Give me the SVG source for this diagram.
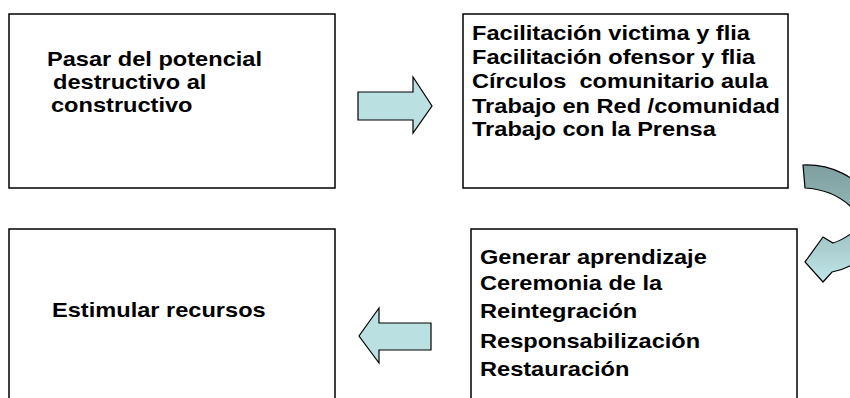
<svg xmlns="http://www.w3.org/2000/svg" width="850" height="398" viewBox="0 0 850 398">
<style>
.box{fill:#fff;stroke:#000;stroke-width:1.5}
.t{font-family:"Liberation Sans",Arial,sans-serif;font-weight:bold;font-size:20px;fill:#000}
.arr{fill:#bbe0e2;stroke:#000;stroke-width:1.2;stroke-linejoin:miter}
</style>
<defs>
<linearGradient id="cg" x1="0" y1="0" x2="0" y2="1">
<stop offset="0" stop-color="#7e9e9f"/>
<stop offset="0.45" stop-color="#97b9ba"/>
<stop offset="1" stop-color="#c0e6e9"/>
</linearGradient>
</defs>
<rect width="850" height="398" fill="#fff"/>
<g id="n1">
<rect class="box" x="9" y="14" width="326" height="174"/>
<text class="t" transform="translate(47,66) scale(1.18,1)">Pasar del potencial</text>
<text class="t" transform="translate(53,89) scale(1.18,1)">destructivo al</text>
<text class="t" transform="translate(51,112) scale(1.18,1)">constructivo</text>
</g>
<g id="n2">
<rect class="box" x="463" y="14" width="325" height="174"/>
<text class="t" transform="translate(472,40) scale(1.18,1)">Facilitación victima y flia</text>
<text class="t" transform="translate(472,64) scale(1.18,1)">Facilitación ofensor y flia</text>
<text class="t" transform="translate(472,88) scale(1.18,1)" xml:space="preserve">Círculos  comunitario aula</text>
<text class="t" transform="translate(472,113) scale(1.18,1)">Trabajo en Red /comunidad</text>
<text class="t" transform="translate(472,136) scale(1.18,1)">Trabajo con la Prensa</text>
</g>
<g id="n3">
<rect class="box" x="9" y="229" width="326" height="180"/>
<text class="t" transform="translate(52,317) scale(1.18,1)">Estimular recursos</text>
</g>
<g id="n4">
<rect class="box" x="471" y="229" width="326" height="180"/>
<text class="t" transform="translate(480,264) scale(1.18,1)">Generar aprendizaje</text>
<text class="t" transform="translate(480,290) scale(1.18,1)">Ceremonia de la</text>
<text class="t" transform="translate(480,318) scale(1.18,1)">Reintegración</text>
<text class="t" transform="translate(480,348) scale(1.18,1)">Responsabilización</text>
<text class="t" transform="translate(480,376) scale(1.18,1)">Restauración</text>
</g>
<g id="connectors">
<path class="arr" d="M358,92 L413,92 L413,77 L432,106 L413,133 L413,120 L358,120 Z"/>
<path class="arr" d="M431,323 L379,323 L379,308 L359,336 L379,363 L379,350 L431,350 Z"/>
<path fill="url(#cg)" stroke="#000" stroke-width="1.2" d="M803,165 C830,164 858,176 870,200 L870,250 C860,262 845,270 832,272 L823,282 L805,262 L823,237 L833,243 C840,241 847,237 856,230 L856,212 C842,196 824,189 805,188 Z"/>
</g>
</svg>
